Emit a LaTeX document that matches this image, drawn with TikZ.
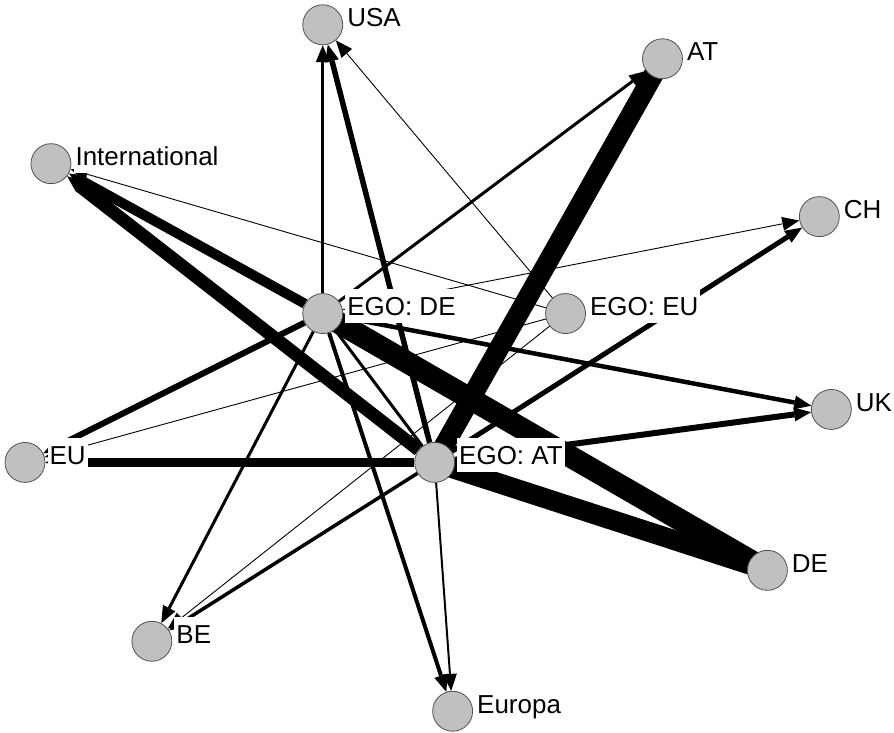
\documentclass[tikz,border=0pt]{standalone}
\usepackage{fontspec}
\setmainfont{Liberation Sans}
\usetikzlibrary{arrows.meta,positioning,backgrounds}
\definecolor{nodegray}{HTML}{C0C0C0}
\definecolor{rimgray}{HTML}{505050}

\begin{document}
\begin{tikzpicture}[x=1pt,y=-1pt,
	actor/.style={circle, draw=rimgray, line width=0.8pt, fill=nodegray, minimum size=40pt, inner sep=0pt},
	tag/.style={fill=white, inner xsep=2pt, inner ysep=8pt, text height=18.6pt, text depth=0pt,
		font=\fontsize{26}{30}\selectfont, right=2pt of #1, yshift=7.5pt},
	tie/.style={line width=#1, -{Triangle[length=17pt,width=14pt,line width=0pt]}},
	band/.style={line width=#1}]
	% actors
	\node[actor] (usa) at (323,23) {};
	\node[actor] (at) at (663,57) {};
	\node[actor] (intl) at (51,162) {};
	\node[actor] (ch) at (820,215) {};
	\node[actor] (egode) at (323,312) {};
	\node[actor] (egoeu) at (566,312) {};
	\node[actor] (uk) at (832,408) {};
	\node[actor] (eu) at (25,461) {};
	\node[actor] (egoat) at (435,461) {};
	\node[actor] (de) at (768,569) {};
	\node[actor] (be) at (152,640) {};
	\node[actor] (europa) at (453,710) {};
	% ties
	\begin{scope}[on background layer]
		\fill[white] (0,0) rectangle (894,731);
		\draw[band=20pt] (egoat.center) -- (at.center);
		\draw[band=20pt] (egoat.center) -- (de.center);
		\draw[band=22pt] (egode.center) -- (de.center);
		\draw[tie=13pt] (egoat) -- (intl);
		\draw[tie=10pt] (egode) -- (intl);
		\draw[tie=9pt] (egoat) -- (eu);
		\draw[tie=6pt] (egoat) -- (uk);
		\draw[tie=6pt] (egode) -- (eu);
		\draw[tie=5.5pt] (egoat) -- (usa);
		\draw[tie=5pt] (egoat) -- (ch);
		\draw[tie=4.5pt] (egode) -- (uk);
		\draw[tie=4pt] (egode) -- (europa);
		\draw[tie=3.5pt] (egode) -- (usa);
		\draw[tie=3.5pt] (egoat) -- (be);
		\draw[tie=3pt] (egode) -- (at);
		\draw[tie=3pt] (egode) -- (be);
		\draw[tie=2pt] (egoat) -- (europa);
		\draw[line width=3pt] (egode) -- (egoat);
		\draw[tie=0.9pt] (egode) -- (ch);
		\draw[tie=0.9pt] (egoeu) -- (usa);
		\draw[tie=0.9pt] (egoeu) -- (intl);
		\draw[tie=0.9pt] (egoeu) -- (eu);
		\draw[tie=0.9pt] (egoeu) -- (be);
	\end{scope}
	% labels
	\node[tag=usa] (usa-l) {USA};
	\node[tag=at] (at-l) {AT};
	\node[tag=intl] (intl-l) {International};
	\node[tag=ch] (ch-l) {CH};
	\node[tag=egode] (egode-l) {EGO: DE};
	\node[tag=egoeu] (egoeu-l) {EGO: EU};
	\node[tag=uk] (uk-l) {UK};
	\node[tag=eu] (eu-l) {EU};
	\node[tag=egoat] (egoat-l) {EGO: AT};
	\node[tag=de] (de-l) {DE};
	\node[tag=be] (be-l) {BE};
	\node[tag=europa] (europa-l) {Europa};
	\useasboundingbox (0,0) rectangle (894,731);
\end{tikzpicture}
\end{document}
